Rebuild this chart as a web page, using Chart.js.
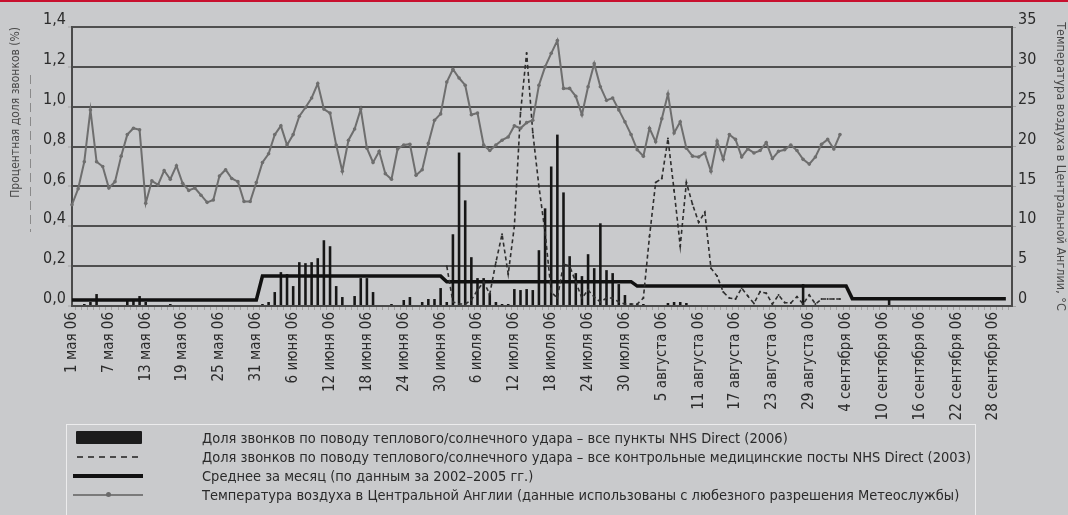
<!DOCTYPE html>
<html>
<head>
<meta charset="utf-8">
<script src="https://cdn.jsdelivr.net/npm/chart.js@4.4.0/dist/chart.umd.min.js"></script>
<style>
  html, body { margin: 0; padding: 0; background: #c9cacc; }
  #wrap { position: relative; width: 1068px; height: 515px; overflow: hidden; background: #c9cacc; }
  #topline { position: absolute; left: 0; top: 0; width: 1068px; height: 2px; background: #c8102e; z-index: 3; }
  #chart { position: absolute; left: 0; top: 0; }
  #mark { position: absolute; left: 30px; top: 75px; width: 1px; height: 157px;
          background: repeating-linear-gradient(180deg, #8a8a8a 0 9px, transparent 9px 14px); }
  #legend { position: absolute; left: 66px; top: 424px; width: 910px; height: 110px;
            border: 1.5px solid #ececed; box-sizing: border-box; }
  .row { position: absolute; left: 0; height: 20px; width: 900px; }
  .sym { position: absolute; }
  .txt { position: absolute; left: 135px; top: 0; line-height: 20px; white-space: nowrap;
         font-family: "Liberation Sans Narrow", "Arial Narrow", "DejaVu Sans Condensed", sans-serif;
         font-size: 14.5px; color: #2a2a2a; }
  .s-bar { left: 9px; top: 3px; width: 66px; height: 13px; background: #1c1c1c; border-radius: 1px; }
  .s-dash { left: 10px; top: 9px; width: 64px; height: 2px;
            background: repeating-linear-gradient(90deg, #4a4a4a 0 6px, transparent 6px 11px); }
  .s-thick { left: 6px; top: 8px; width: 70px; height: 4px; background: #111; }
  .s-temp { left: 6px; top: 9px; width: 70px; height: 2px; background: #7a7a7a; }
  .s-dot { left: 39px; top: 7px; width: 5px; height: 5px; border-radius: 50%; background: #6a6a6a; }
</style>
</head>
<body>
<div id="wrap">
  <div id="topline"></div>
  <canvas id="chart" width="1068" height="515"></canvas>
  <div id="mark"></div>
  <div id="legend">
    <div class="row" style="top:3px"><span class="sym s-bar"></span><span class="txt">Доля звонков по поводу теплового/солнечного удара – все пункты NHS Direct (2006)</span></div>
    <div class="row" style="top:22px"><span class="sym s-dash"></span><span class="txt">Доля звонков по поводу теплового/солнечного удара – все контрольные медицинские посты NHS Direct (2003)</span></div>
    <div class="row" style="top:41px"><span class="sym s-thick"></span><span class="txt">Среднее за месяц (по данным за 2002–2005 гг.)</span></div>
    <div class="row" style="top:60px"><span class="sym s-temp"></span><span class="sym s-dot"></span><span class="txt">Температура воздуха в Центральной Англии (данные использованы с любезного разрешения Метеослужбы)</span></div>
  </div>
</div>
<script>
// Days 1 May 06 .. 1 Oct 06
const monthNames = ["мая", "июня", "июля", "августа", "сентября", "октября"];
const monthLengths = [31, 30, 31, 31, 30, 1];

const tickLabels = [
  "1 мая 06", "7 мая 06", "13 мая 06", "19 мая 06", "25 мая 06", "31 мая 06",
  "6 июня 06", "12 июня 06", "18 июня 06", "24 июня 06", "30 июня 06",
  "6 июля 06", "12 июля 06", "18 июля 06", "24 июля 06", "30 июля 06",
  "5 августа 06", "11 августа 06", "17 августа 06", "23 августа 06", "29 августа 06",
  "4 сентября 06", "10 сентября 06", "16 сентября 06", "22 сентября 06", "28 сентября 06"
];

// share of calls, all NHS Direct sites 2006 (%), one value per day from 1 May
const calls2006 = [
  0, 0, 0.01, 0.02, 0.06, 0, 0.005, 0.005, 0, 0.03,
  0.035, 0.05, 0.02, 0, 0, 0, 0.01, 0, 0, 0,
  0, 0, 0, 0, 0, 0, 0, 0, 0, 0.005,
  0, 0.01, 0.02, 0.07, 0.17, 0.16, 0.10, 0.22, 0.215, 0.22,
  0.24, 0.33, 0.30, 0.10, 0.045, 0.005, 0.05, 0.14, 0.14, 0.07,
  0.005, 0.005, 0.01, 0.005, 0.03, 0.045, 0.005, 0.02, 0.035, 0.035,
  0.09, 0.02, 0.36, 0.77, 0.53, 0.245, 0.14, 0.14, 0.064, 0.02,
  0.01, 0.01, 0.085, 0.08, 0.085, 0.08, 0.28, 0.49, 0.70, 0.86,
  0.57, 0.25, 0.165, 0.15, 0.26, 0.19, 0.415, 0.18, 0.165, 0.11,
  0.055, 0.01, 0.01, 0.01, 0.005, 0, 0, 0.015, 0.02, 0.02,
  0.015, 0, 0.005, 0.005, 0.005, 0.005, 0, 0, 0, 0,
  0, 0, 0, 0, 0, 0, 0, 0, 0, 0.11,
  0, 0, 0, 0, 0, 0, 0, 0, 0, 0,
  0, 0, 0, 0.04
];

// sentinel sites 2003 (%), daily from 1 July
const start2003 = "1 июля 06";
const calls2003 = [
  0.20, 0.02, 0.01, 0.01, 0.03, 0.08, 0.12, 0.06, 0.22, 0.36,
  0.16, 0.40, 0.97, 1.27, 0.87, 0.60, 0.37, 0.07, 0.04, 0.21,
  0.20, 0.12, 0.04, 0.08, 0.045, 0.02, 0.04, 0.04, 0.02, 0.01,
  0.01, 0.01, 0.04, 0.35, 0.62, 0.64, 0.84, 0.58, 0.30, 0.62,
  0.51, 0.42, 0.47, 0.19, 0.15, 0.07, 0.04, 0.035, 0.09, 0.05,
  0.013, 0.072, 0.064, 0.01, 0.055, 0.017, 0.015, 0.047, 0.01, 0.055,
  0.01, 0.035, 0.035, 0.035, 0.035
];

// monthly mean 2002-2005 (%)
const meanLevels = [0.03, 0.15, 0.122, 0.10, 0.037];
const meanStarts = ["1 мая 06", "1 июня 06", "1 июля 06", "1 августа 06", "5 сентября 06"];
const meanEnd = "30 сентября 06";

// Central England temperature (°C), daily from 1 May
const temperature = [
  12.7, 14.7, 18.1, 24.6, 18.1, 17.5, 14.8, 15.6, 18.8, 21.5,
  22.3, 22.1, 12.9, 15.7, 15.2, 17.0, 15.9, 17.6, 15.4, 14.5,
  14.8, 13.9, 13.0, 13.3, 16.3, 17.1, 16.0, 15.6, 13.1, 13.1,
  15.5, 18.0, 19.1, 21.5, 22.6, 20.2, 21.5, 23.8, 24.9, 26.1,
  27.9, 24.7, 24.2, 20.2, 16.9, 20.8, 22.2, 24.7, 19.8, 18.0,
  19.4, 16.6, 15.9, 19.7, 20.2, 20.3, 16.4, 17.1, 20.4, 23.3,
  24.1, 28.1, 29.7, 28.6, 27.7, 24.0, 24.2, 20.2, 19.5, 20.2,
  20.8, 21.2, 22.6, 22.3, 23.0, 23.3, 27.7, 30.0, 31.7, 33.3,
  27.3, 27.3, 26.3, 24.0, 27.5, 30.4, 27.5, 25.8, 26.1, 24.6,
  23.1, 21.5, 19.6, 18.8, 22.3, 20.6, 23.5, 26.6, 21.7, 23.1,
  19.8, 18.8, 18.7, 19.2, 16.9, 20.7, 18.4, 21.5, 20.9, 18.7,
  19.7, 19.2, 19.5, 20.5, 18.5, 19.4, 19.6, 20.2, 19.5, 18.4,
  17.8, 18.7, 20.3, 20.9, 19.7, 21.5
];

const categories = [];
monthNames.forEach(function (m, i) {
  for (let d = 1; d <= monthLengths[i]; d++) categories.push(d + " " + m + " 06");
});

// step line points of the monthly mean
const meanPoints = [];
meanLevels.forEach(function (lv, i) {
  const a = categories.indexOf(meanStarts[i]);
  const b = i + 1 < meanStarts.length ? categories.indexOf(meanStarts[i + 1]) - 1 : categories.indexOf(meanEnd);
  meanPoints.push({ x: categories[a], y: lv }, { x: categories[b], y: lv });
});

const first2003 = categories.indexOf(start2003);
const points2003 = calls2003.map(function (v, i) { return { x: categories[first2003 + i], y: v }; });

const FONT = '"Liberation Sans Narrow", "Arial Narrow", "DejaVu Sans Condensed", sans-serif';
const INK = "#2b2b2b";

new Chart(document.getElementById("chart"), {
  data: {
    labels: categories,
    datasets: [
      {
        type: "line", data: temperature, yAxisID: "y2", order: 1,
        borderColor: "#6e6e6e", borderWidth: 2, pointRadius: 1.8, pointBorderWidth: 0,
        pointBackgroundColor: "#6e6e6e", tension: 0
      },
      {
        type: "line", data: points2003, yAxisID: "y", order: 2,
        borderColor: "#2e2e2e", borderWidth: 1.6, borderDash: [4, 3],
        pointRadius: 1, pointBorderWidth: 0, pointBackgroundColor: "#2e2e2e"
      },
      {
        type: "line", data: meanPoints, yAxisID: "y", order: 3,
        borderColor: "#111", borderWidth: 3.5, pointRadius: 0
      },
      {
        type: "bar", data: calls2006, yAxisID: "y", order: 4,
        backgroundColor: "#161616", barPercentage: 0.42, categoryPercentage: 1
      }
    ]
  },
  options: {
    responsive: false,
    animation: false,
    devicePixelRatio: 1,
    layout: { padding: { top: 27, left: 0, right: 0, bottom: 0 } },
    plugins: { legend: { display: false }, tooltip: { enabled: false } },
    scales: {
      x: {
        type: "category", offset: false,
        grid: { drawOnChartArea: false, drawTicks: true, tickLength: 4, color: "#a3a3a3", lineWidth: 1 },
        border: { display: true, color: "#4a4a4a", width: 2 },
        ticks: {
          autoSkip: false, minRotation: 90, maxRotation: 90, padding: 2, color: INK,
          font: { family: FONT, size: 15 },
          callback: function (v) {
            const l = this.getLabelForValue(v);
            return tickLabels.includes(l) ? l : "";
          }
        },
        afterFit: function (s) { s.height = 209; }
      },
      y: {
        position: "left", min: 0, max: 1.4,
        grid: { color: "#4f4f4f", lineWidth: 2, tickLength: 4, tickColor: "#a3a3a3", tickWidth: 1 },
        border: { color: "#4a4a4a", width: 2 },
        ticks: {
          stepSize: 0.2, padding: 2, labelOffset: -7, color: INK, font: { family: FONT, size: 16 },
          callback: function (v) { return v.toFixed(1).replace(".", ","); }
        },
        title: {
          display: true, text: "Процентная доля звонков (%)", align: "end",
          color: "#4a4a4a", font: { family: FONT, size: 12 }, padding: { top: 9, bottom: 0 }
        },
        afterFit: function (s) { s.width = 72; }
      },
      y2: {
        position: "right", min: 0, max: 35,
        grid: { drawOnChartArea: false, tickLength: 4, color: "#a3a3a3" },
        border: { color: "#4a4a4a", width: 2 },
        ticks: { stepSize: 5, padding: 2, labelOffset: -7, color: INK, font: { family: FONT, size: 16 } },
        title: {
          display: true, text: "Температура воздуха в Центральной Англии, °C",
          color: "#4a4a4a", font: { family: FONT, size: 12.5 }, padding: { top: 0, bottom: 0 }
        },
        afterFit: function (s) { s.width = 56; }
      }
    }
  }
});
</script>
</body>
</html>
